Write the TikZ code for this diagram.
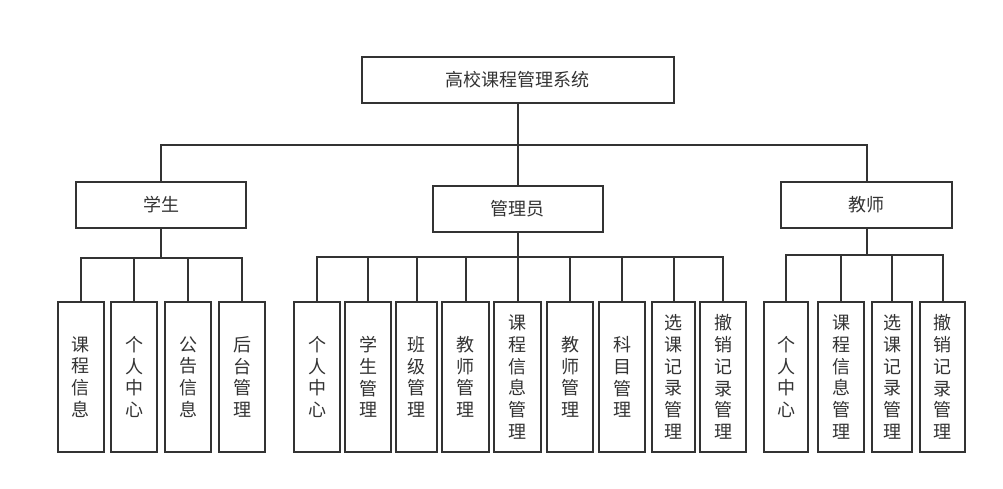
\documentclass[tikz,border=0pt]{standalone}
\usepackage{fontspec}
\newfontfamily\cjkfont{Noto Sans CJK SC}
\usetikzlibrary{positioning}
\definecolor{ink}{HTML}{333333}
\tikzset{
  topbox/.style={draw=ink, line width=2pt, minimum height=46pt, inner sep=0pt,
    text=ink, font=\cjkfont\fontsize{18}{21.7}\selectfont},
  leafbox/.style={topbox, minimum width=46pt, minimum height=150pt, anchor=north, align=center},
  link/.style={draw=ink, line width=2pt},
}

\begin{document}
\begin{tikzpicture}[x=1pt, y=-1pt]
\useasboundingbox (0,0) rectangle (1003,488);

% Root and the three roles.
\node[topbox, minimum width=312pt] (sys) at (517.5,80) {高校课程管理系统};
\node[topbox, minimum width=170pt] (stu) at (161,204.5) {学生};
\node[topbox, minimum width=170pt] (adm) at (517.5,208.5) {管理员};
\node[topbox, minimum width=171pt] (tea) at (866.5,204.5) {教师};

\coordinate (top) at (517.5,145);
\draw[link] (sys.south) -- (top);
\draw[link] (top) -| (stu.north);
\draw[link] (top) -- (adm.north);
\draw[link] (top) -| (tea.north);

% Student functions.
\node[leafbox] (s1) at (80.5,301) {课\\程\\信\\息};
\node[leafbox] (s2) at (134,301) {个\\人\\中\\心};
\node[leafbox] (s3) at (188,301) {公\\告\\信\\息};
\node[leafbox] (s4) at (242,301) {后\\台\\管\\理};

\coordinate (sbus) at (161,258);
\draw[link] (stu.south) -- (sbus) -| (s1.north) (sbus) -| (s2.north)
  (sbus) -| (s3.north) (sbus) -| (s4.north);

% Administrator functions.
\node[leafbox] (a1) at (317,301) {个\\人\\中\\心};
\node[leafbox] (a2) at (368,301) {学\\生\\管\\理};
\node[leafbox, minimum width=41pt] (a3) at (416.5,301) {班\\级\\管\\理};
\node[leafbox, minimum width=47pt] (a4) at (465.5,301) {教\\师\\管\\理};
\node[leafbox, minimum width=47pt] (a5) at (517.5,301) {课\\程\\信\\息\\管\\理};
\node[leafbox] (a6) at (570,301) {教\\师\\管\\理};
\node[leafbox] (a7) at (622,301) {科\\目\\管\\理};
\node[leafbox, minimum width=43pt] (a8) at (673.5,301) {选\\课\\记\\录\\管\\理};
\node[leafbox] (a9) at (723,301) {撤\\销\\记\\录\\管\\理};

\coordinate (abus) at (517.5,257);
\draw[link] (adm.south) -- (abus) -| (a1.north) (abus) -| (a2.north)
  (abus) -| (a3.north) (abus) -| (a4.north) (abus) -- (a5.north)
  (abus) -| (a6.north) (abus) -| (a7.north) (abus) -| (a8.north)
  (abus) -| (a9.north);

% Teacher functions.
\node[leafbox, minimum width=44pt] (t1) at (786,301) {个\\人\\中\\心};
\node[leafbox] (t2) at (841,301) {课\\程\\信\\息\\管\\理};
\node[leafbox, minimum width=40pt] (t3) at (892,301) {选\\课\\记\\录\\管\\理};
\node[leafbox, minimum width=45pt] (t4) at (942.5,301) {撤\\销\\记\\录\\管\\理};

\coordinate (tbus) at (866.5,255);
\draw[link] (tea.south) -- (tbus) -| (t1.north) (tbus) -| (t2.north)
  (tbus) -| (t3.north) (tbus) -| (t4.north);

\end{tikzpicture}
\end{document}
